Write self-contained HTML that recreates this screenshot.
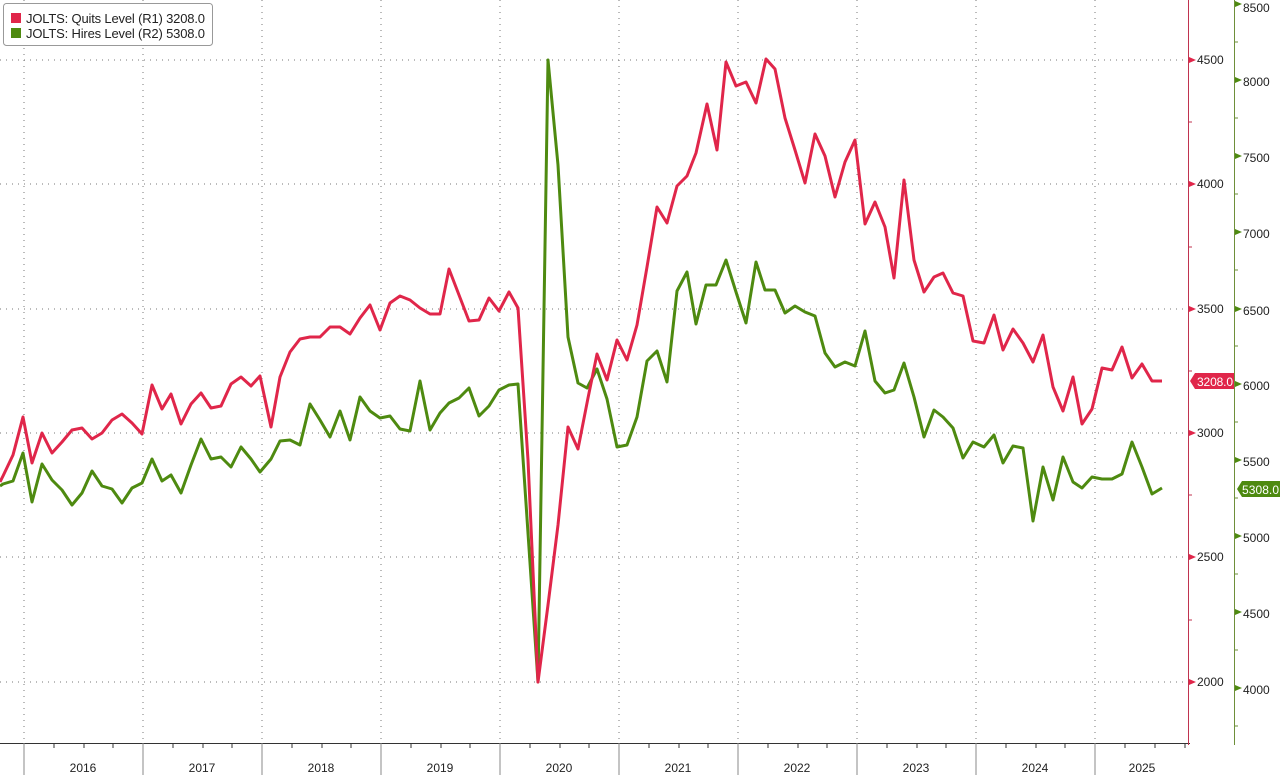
<!DOCTYPE html>
<html><head><meta charset="utf-8"><style>
html,body{margin:0;padding:0;background:#fff;}
svg{display:block;font-family:"Liberation Sans",sans-serif;}
</style></head><body>
<svg width="1280" height="775" viewBox="0 0 1280 775" xmlns="http://www.w3.org/2000/svg">
<rect width="1280" height="775" fill="#fff"/>
<g stroke="#777" stroke-width="1" stroke-dasharray="1,5">
<line x1="0" y1="60" x2="1188" y2="60"/><line x1="0" y1="184" x2="1188" y2="184"/><line x1="0" y1="309" x2="1188" y2="309"/><line x1="0" y1="433" x2="1188" y2="433"/><line x1="0" y1="557" x2="1188" y2="557"/><line x1="0" y1="682" x2="1188" y2="682"/>
<line x1="24" y1="0" x2="24" y2="743"/><line x1="143" y1="0" x2="143" y2="743"/><line x1="262" y1="0" x2="262" y2="743"/><line x1="381" y1="0" x2="381" y2="743"/><line x1="500" y1="0" x2="500" y2="743"/><line x1="619" y1="0" x2="619" y2="743"/><line x1="738" y1="0" x2="738" y2="743"/><line x1="857" y1="0" x2="857" y2="743"/><line x1="976" y1="0" x2="976" y2="743"/><line x1="1095" y1="0" x2="1095" y2="743"/>
</g>
<polyline fill="none" stroke="#4e8a10" stroke-width="3" stroke-linejoin="round" points="0,486 3,484 13,481 23,453 32,502 42,464 52,480 62,490 72,505 82,493 92,471 102,486 112,489 122,503 132,488 142,483 152,459 162,481 171,475 181,493 191,465 201,439 211,459 221,457 231,467 241,447 251,459 260,472 271,459 280,441 290,440 300,445 310,404 320,420 330,437 340,411 350,440 360,397 370,411 380,418 390,416 400,429 410,431 420,381 430,430 440,413 449,403 459,398 469,388 479,416 489,406 499,390 509,385 518,384 528,533 538,682 548,60 558,165 568,337 578,383 587,388 597,369 607,399 617,447 627,445 637,417 647,361 657,351 667,382 677,291 687,272 696,324 706,285 716,285 726,260 736,292 746,323 756,262 765,290 775,290 785,313 795,306 805,312 815,316 825,353 835,367 845,362 855,366 865,331 875,381 885,393 894,390 904,363 914,397 924,437 934,410 943,417 953,428 963,458 973,442 984,447 994,435 1003,463 1013,446 1023,448 1033,521 1043,467 1053,500 1063,457 1073,482 1082,488 1092,477 1102,479 1112,479 1122,474 1132,442 1142,467 1152,494 1162,488"/>
<polyline fill="none" stroke="#e0264a" stroke-width="3" stroke-linejoin="round" points="0,482 3,476 13,455 23,417 32,463 42,433 52,453 62,442 72,430 82,428 92,439 102,433 112,420 122,414 132,423 142,434 152,385 162,409 171,394 181,424 191,404 201,393 211,408 221,406 231,384 241,377 251,386 260,376 271,427 280,377 290,352 300,339 310,337 320,337 330,327 340,327 350,334 360,318 370,305 380,330 390,303 400,296 410,300 420,308 430,314 440,314 449,269 459,295 469,321 479,320 489,298 499,311 509,292 518,308 528,460 538,682 548,605 558,525 568,427 578,449 588,398 597,354 607,380 617,340 627,360 637,325 647,267 657,207 667,223 677,186 687,176 696,153 707,104 717,150 726,62 736,86 746,82 756,103 766,59 775,69 785,118 795,150 805,183 815,134 825,156 835,197 845,162 855,140 865,224 875,202 885,227 894,278 904,180 914,260 924,292 934,277 943,273 953,293 963,296 973,341 984,343 994,315 1003,350 1013,329 1023,343 1033,362 1043,335 1053,387 1063,411 1073,377 1082,424 1092,409 1102,368 1112,370 1122,347 1132,378 1142,364 1152,381 1162,381"/>
<line x1="0" y1="743.5" x2="1190" y2="743.5" stroke="#333" stroke-width="1"/>
<g stroke="#888" stroke-width="1">
<line x1="24" y1="743" x2="24" y2="775"/><line x1="143" y1="743" x2="143" y2="775"/><line x1="262" y1="743" x2="262" y2="775"/><line x1="381" y1="743" x2="381" y2="775"/><line x1="500" y1="743" x2="500" y2="775"/><line x1="619" y1="743" x2="619" y2="775"/><line x1="738" y1="743" x2="738" y2="775"/><line x1="857" y1="743" x2="857" y2="775"/><line x1="976" y1="743" x2="976" y2="775"/><line x1="1095" y1="743" x2="1095" y2="775"/>
</g>
<g stroke="#333" stroke-width="1">
<line x1="54" y1="743" x2="54" y2="748"/><line x1="84" y1="743" x2="84" y2="748"/><line x1="113" y1="743" x2="113" y2="748"/>
<line x1="173" y1="743" x2="173" y2="748"/><line x1="203" y1="743" x2="203" y2="748"/><line x1="232" y1="743" x2="232" y2="748"/>
<line x1="292" y1="743" x2="292" y2="748"/><line x1="322" y1="743" x2="322" y2="748"/><line x1="351" y1="743" x2="351" y2="748"/>
<line x1="411" y1="743" x2="411" y2="748"/><line x1="441" y1="743" x2="441" y2="748"/><line x1="470" y1="743" x2="470" y2="748"/>
<line x1="530" y1="743" x2="530" y2="748"/><line x1="560" y1="743" x2="560" y2="748"/><line x1="589" y1="743" x2="589" y2="748"/>
<line x1="649" y1="743" x2="649" y2="748"/><line x1="679" y1="743" x2="679" y2="748"/><line x1="708" y1="743" x2="708" y2="748"/>
<line x1="768" y1="743" x2="768" y2="748"/><line x1="798" y1="743" x2="798" y2="748"/><line x1="827" y1="743" x2="827" y2="748"/>
<line x1="887" y1="743" x2="887" y2="748"/><line x1="917" y1="743" x2="917" y2="748"/><line x1="946" y1="743" x2="946" y2="748"/>
<line x1="1006" y1="743" x2="1006" y2="748"/><line x1="1036" y1="743" x2="1036" y2="748"/><line x1="1065" y1="743" x2="1065" y2="748"/>
<line x1="1125" y1="743" x2="1125" y2="748"/><line x1="1155" y1="743" x2="1155" y2="748"/><line x1="1185" y1="743" x2="1185" y2="748"/>
</g>
<g font-size="12" fill="#222" text-anchor="middle">
<text x="83" y="772">2016</text><text x="202" y="772">2017</text><text x="321" y="772">2018</text><text x="440" y="772">2019</text><text x="559" y="772">2020</text><text x="678" y="772">2021</text><text x="797" y="772">2022</text><text x="916" y="772">2023</text><text x="1035" y="772">2024</text><text x="1142" y="772">2025</text>
</g>
<line x1="1188.5" y1="0" x2="1188.5" y2="745" stroke="#c0334f" stroke-width="1"/>
<g fill="#e0264a">
<path d="M1189,57 L1196,60 L1189,63Z"/><path d="M1189,181 L1196,184 L1189,187Z"/><path d="M1189,306 L1196,309 L1189,312Z"/><path d="M1189,430 L1196,433 L1189,436Z"/><path d="M1189,554 L1196,557 L1189,560Z"/><path d="M1189,679 L1196,682 L1189,685Z"/>
</g>
<g stroke="#c0334f"><line x1="1188" y1="122" x2="1192" y2="122"/><line x1="1188" y1="247" x2="1192" y2="247"/><line x1="1188" y1="371" x2="1192" y2="371"/><line x1="1188" y1="495" x2="1192" y2="495"/><line x1="1188" y1="620" x2="1192" y2="620"/></g>
<g font-size="12" fill="#222">
<text x="1197" y="64">4500</text><text x="1197" y="188">4000</text><text x="1197" y="313">3500</text><text x="1197" y="437">3000</text><text x="1197" y="561">2500</text><text x="1197" y="686">2000</text>
</g>
<line x1="1234.5" y1="0" x2="1234.5" y2="745" stroke="#6e8f3a" stroke-width="1"/>
<g fill="#4e8a10">
<path d="M1235,1 L1242,4 L1235,7Z"/><path d="M1235,77 L1242,80 L1235,83Z"/><path d="M1235,153 L1242,156 L1235,159Z"/><path d="M1235,229 L1242,232 L1235,235Z"/><path d="M1235,306 L1242,309 L1235,312Z"/><path d="M1235,381 L1242,384 L1235,387Z"/><path d="M1235,457 L1242,460 L1235,463Z"/><path d="M1235,533 L1242,536 L1235,539Z"/><path d="M1235,609 L1242,612 L1235,615Z"/><path d="M1235,685 L1242,688 L1235,691Z"/>
</g>
<g stroke="#6e8f3a"><line x1="1234" y1="42" x2="1238" y2="42"/><line x1="1234" y1="118" x2="1238" y2="118"/><line x1="1234" y1="194" x2="1238" y2="194"/><line x1="1234" y1="270" x2="1238" y2="270"/><line x1="1234" y1="346" x2="1238" y2="346"/><line x1="1234" y1="422" x2="1238" y2="422"/><line x1="1234" y1="498" x2="1238" y2="498"/><line x1="1234" y1="574" x2="1238" y2="574"/><line x1="1234" y1="650" x2="1238" y2="650"/><line x1="1234" y1="726" x2="1238" y2="726"/></g>
<g font-size="12" fill="#222">
<text x="1243" y="12">8500</text><text x="1243" y="86">8000</text><text x="1243" y="162">7500</text><text x="1243" y="238">7000</text><text x="1243" y="315">6500</text><text x="1243" y="390">6000</text><text x="1243" y="466">5500</text><text x="1243" y="542">5000</text><text x="1243" y="618">4500</text><text x="1243" y="694">4000</text>
</g>
<path d="M1190,381 L1195,373 L1234,373 L1234,389 L1195,389Z" fill="#e0264a"/>
<text x="1197" y="386" font-size="12" fill="#fff" textLength="36">3208.0</text>
<path d="M1237,489 L1242,481 L1280,481 L1280,497 L1242,497Z" fill="#4e8a10"/>
<text x="1242" y="494" font-size="12" fill="#fff" textLength="37">5308.0</text>
<rect x="3.5" y="3.5" width="209" height="42" rx="3" fill="#fff" stroke="#999"/>
<rect x="11" y="13" width="10" height="10" fill="#e0264a"/>
<rect x="11" y="28" width="10" height="10" fill="#4e8a10"/>
<g font-size="13" fill="#222"><text x="26" y="23" textLength="179">JOLTS: Quits Level (R1) 3208.0</text><text x="26" y="38" textLength="179">JOLTS: Hires Level (R2) 5308.0</text></g>
</svg>
</body></html>
